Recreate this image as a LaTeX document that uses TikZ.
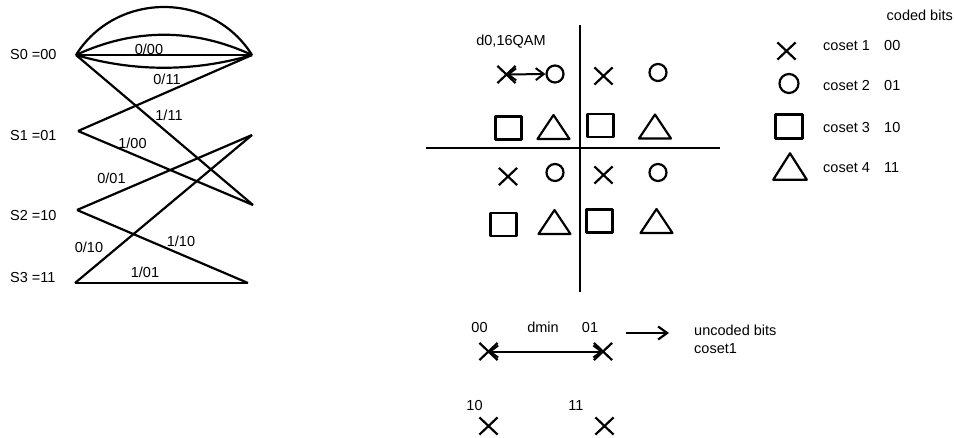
\documentclass[tikz,border=0pt]{standalone}
\usepackage{fontspec}
\setmainfont{Liberation Sans}
\usetikzlibrary{shapes.misc,arrows.meta}
\begin{document}
\begin{tikzpicture}[x=1pt,y=-1pt,line join=round,
  txt/.style={font=\fontsize{14.5}{17}\selectfont, inner sep=0pt, anchor=base},
  txtl/.style={txt, anchor=base west},
  tl/.style={line width=2.2pt},
  xm/.style={cross out, draw, line width=2.2pt, minimum width=16pt, minimum height=15pt, inner sep=0pt},
  om/.style={circle, draw, line width=2.2pt, minimum size=17pt, inner sep=0pt},
  sqm/.style={rectangle, draw, line width=2.2pt, minimum width=26pt, minimum height=23pt, inner sep=0pt},
  trimark/.pic={\draw[line width=2.2pt] (-16,12) -- (0,-12) -- (16,12) -- cycle;},
  dar/.style={line width=2pt, {Straight Barb[length=8pt,width=12pt]}-{Straight Barb[length=8pt,width=12pt]}},
  sar/.style={line width=2.2pt, -{Straight Barb[length=9pt,width=13pt]}},
  axis/.style={line width=2.4pt}
]
\useasboundingbox (0,0) rectangle (954,437);

% ---------- trellis ----------
\coordinate (L0) at (76,55);
\coordinate (L1) at (78,131);
\coordinate (L2) at (77,210);
\coordinate (L3) at (75,283);
\coordinate (R0) at (252,55);
\coordinate (R1) at (252,135);
\coordinate (R2) at (253,205);
\coordinate (R3) at (248,283);

\draw[tl] (L0) -- (R0);
\draw[tl] (L0) .. controls (116,-9) and (212,-9) .. (R0);
\draw[tl] (L0) .. controls (134,28) and (194,28) .. (R0);
\draw[tl] (L0) .. controls (134,72) and (194,72) .. (R0);
\draw[tl] (L0) -- (R2);
\draw[tl] (L1) -- (R0);
\draw[tl] (L1) -- (R2);
\draw[tl] (L2) -- (R1);
\draw[tl] (L2) -- (R3);
\draw[tl] (L3) -- (R1);
\draw[tl] (L3) -- (R3);

\node[txtl] (s0) at (10,59) {S0 =00};
\node[txtl] (s1) at (10,140) {S1 =01};
\node[txtl] (s2) at (10,220) {S2 =10};
\node[txtl] (s3) at (10,282) {S3 =11};

\node[txt] (t1) at (149,54) {0/00};
\node[txt] (t2) at (167,84) {0/11};
\node[txt] (t3) at (169,120) {1/11};
\node[txt] (t4) at (132.5,148) {1/00};
\node[txt] (t5) at (111.5,183) {0/01};
\node[txt] (t6) at (89,252) {0/10};
\node[txt] (t7) at (181,246) {1/10};
\node[txt] (t8) at (145,277) {1/01};

% ---------- constellation ----------
\coordinate (vt) at (580,25);
\coordinate (vb) at (580,292);
\coordinate (hl) at (426,148);
\coordinate (hr) at (720,148);
\draw[axis] (vt) -- (vb);
\draw[axis] (hl) -- (hr);

\node[txt] (d0) at (511,45) {d0,16QAM};

\node[xm] (x1) at (506.5,74.5) {};
\node[om] (o1) at (555,74) {};
\node[xm] (x2) at (603.5,76) {};
\node[om] (o2) at (658,72.5) {};

\node[sqm] (q1) at (508.5,128) {};
\pic at (553.5,127) {trimark};
\node[sqm] (q2) at (600.5,125.5) {};
\pic at (655,126.5) {trimark};

\node[xm] (x3) at (508,176.5) {};
\node[om] (o3) at (555,172.5) {};
\node[xm] (x4) at (603.5,175) {};
\node[om] (o4) at (658,172.5) {};

\node[sqm] (q3) at (503.5,224.5) {};
\pic at (554.5,222) {trimark};
\node[sqm] (q4) at (599.5,221) {};
\pic at (656.5,221) {trimark};

\draw[dar] (x1.center) -- (o1.west);

% ---------- legend ----------
\node[txt, anchor=base east] (cb) at (953,20) {coded bits};
\node[xm] (lx) at (786.5,51) {};
\node[om, minimum size=19pt] (lo) at (789,83.5) {};
\node[sqm, minimum width=27pt, minimum height=24pt] (lq) at (789,126.5) {};
\pic[yscale=1.1, xscale=1.05] at (790,166.5) {trimark};

\node[txtl] (c1) at (823,50) {coset 1};
\node[txtl] (c2) at (823,90) {coset 2};
\node[txtl] (c3) at (823,132) {coset 3};
\node[txtl] (c4) at (823,172) {coset 4};
\node[txtl] (b1) at (884,50) {00};
\node[txtl] (b2) at (884,90) {01};
\node[txtl] (b3) at (884,132) {10};
\node[txtl] (b4) at (884,172) {11};

% ---------- coset 1 detail ----------
\node[txt] (u00) at (479.5,332) {00};
\node[txt] (udm) at (543,332) {dmin};
\node[txt] (u01) at (590,332) {01};
\node[xm] (p00) at (488.5,351.5) {};
\node[xm] (p01) at (603,351.5) {};
\draw[dar] (p00.center) -- (p01.center);

\coordinate (a1) at (626,333);
\coordinate (a2) at (669,333);
\draw[sar] (a1) -- (a2);
\node[txtl] (unc) at (694,335) {uncoded bits};
\node[txtl] (cs1) at (694,353) {coset1};

\node[txt] (u10) at (474.5,410) {10};
\node[txt] (u11) at (576,410) {11};
\node[xm] (p10) at (488.5,426) {};
\node[xm] (p11) at (604.5,426) {};
\end{tikzpicture}
\end{document}
